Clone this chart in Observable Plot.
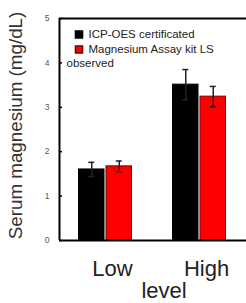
<!DOCTYPE html>
<html><head><meta charset="utf-8">
<script src="https://cdn.jsdelivr.net/npm/d3@7"></script>
<script src="https://cdn.jsdelivr.net/npm/@observablehq/plot@0.6"></script>
<style>body{margin:0;background:#fff} svg{display:block}</style>
</head><body><div id="chart"></div>
<script>
const levels = ["Low", "High"];
const series = ["ICP-OES certificated", "Magnesium Assay kit LS observed"];
const seriesColors = ["#000000", "#ff0000"];
const seriesStrokes = ["#000000", "#7a0000"];
const icpValues = [1.60, 3.51];
const icpErrors = [0.16, 0.34];
const kitValues = [1.67, 3.24];
const kitErrors = [0.12, 0.23];
const yTicks = [0, 1, 2, 3, 4, 5];
const yLabel = "Serum magnesium (mg/dL)";
const xLabel = "level";

const W = 246, H = 303, mL = 59, mR = 0, mT = 18, mB = 63;
const padIn = 0.421, padOut = 0.195;
const step = (W - mL - mR) / (levels.length - padIn + 2 * padOut);
const bw = step * (1 - padIn);
const half = bw / 2, cap = 3.5;
const leftGap = step * padOut; // distance from frame left to first band

const rows = [];
levels.forEach((l, i) => {
  rows.push({level: l, s: 0, value: icpValues[i], err: icpErrors[i]});
  rows.push({level: l, s: 1, value: kitValues[i], err: kitErrors[i]});
});
const r0 = rows.filter(d => d.s === 0), r1 = rows.filter(d => d.s === 1);

function barsFor(data, k) {
  const off = k === 0 ? -half / 2 : half / 2;
  const capL = k === 0 ? half / 2 - cap : half + half / 2 - cap;
  const capR = bw - capL - 2 * cap;
  return [
    Plot.barY(data, {x: "level", y: "value", fill: seriesColors[k], stroke: seriesStrokes[k], strokeWidth: 1,
      insetLeft: k === 0 ? 0.5 : half + 0.5, insetRight: k === 0 ? half + 0.5 : 0.5}),
    Plot.ruleX(data, {x: "level", y1: d => d.value - d.err, y2: d => d.value + d.err, dx: off, stroke: "#222", strokeWidth: 1.5}),
    Plot.tickY(data, {x: "level", y: d => d.value + d.err, insetLeft: capL, insetRight: capR, stroke: "#222", strokeWidth: 1.5}),
    Plot.tickY(data, {x: "level", y: d => d.value - d.err, insetLeft: capL, insetRight: capR, stroke: "#222", strokeWidth: 1.5})
  ];
}

const legendLines = [series[0], "Magnesium Assay kit LS", "observed"];

const plot = Plot.plot({
  width: W, height: H,
  marginLeft: mL, marginRight: mR, marginTop: mT, marginBottom: mB,
  style: {fontFamily: "Liberation Sans, Arial, sans-serif", background: "#fff"},
  x: {domain: levels, paddingInner: padIn, paddingOuter: padOut, align: 0.5, axis: null},
  y: {domain: [0, 5], axis: null},
  marks: [
    ...barsFor(r0, 0),
    ...barsFor(r1, 1),
    Plot.ruleY([0, 5], {stroke: "#000", strokeWidth: 2}),
    // left axis line
    Plot.ruleX([levels[0]], {x: d => d, y1: 0, y2: 5, dx: -(leftGap + bw / 2), stroke: "#000", strokeWidth: 2}),
    // inward tick marks
    Plot.tickY(yTicks, {x: () => levels[0], y: d => d, dx: -leftGap, insetRight: bw - 3.5, stroke: "#000", strokeWidth: 1.5}),
    // y tick labels
    Plot.text(yTicks, {x: () => levels[0], y: d => d, dx: -(leftGap + bw / 2 + 10), textAnchor: "end", fontSize: 8.5, fill: "#555"}),
    // x tick labels
    Plot.text(levels, {x: d => d, frameAnchor: "bottom", dx: 7, dy: 28, lineAnchor: "middle", fontSize: 22, fill: "#222"}),
    Plot.text([yLabel], {frameAnchor: "left", rotate: -90, dx: -44, dy: -4, textAnchor: "middle", lineAnchor: "middle", fontSize: 18.8, fill: "#333"}),
    Plot.text([xLabel], {frameAnchor: "bottom", dx: 11, dy: 50, textAnchor: "middle", lineAnchor: "middle", fontSize: 22, fill: "#222"}),
    Plot.dot([0], {frameAnchor: "top-left", dx: 19.5, dy: 16, symbol: "square", r: 4, fill: seriesColors[0], stroke: seriesStrokes[0]}),
    Plot.dot([1], {frameAnchor: "top-left", dx: 19.5, dy: 31, symbol: "square", r: 4, fill: seriesColors[1], stroke: seriesStrokes[1]}),
    Plot.text([legendLines[0]], {frameAnchor: "top-left", dx: 29, dy: 16, textAnchor: "start", lineAnchor: "middle", fontSize: 11.5, fill: "#222"}),
    Plot.text([legendLines[1]], {frameAnchor: "top-left", dx: 29, dy: 31, textAnchor: "start", lineAnchor: "middle", fontSize: 11.5, fill: "#222"}),
    Plot.text([legendLines[2]], {frameAnchor: "top-left", dx: 7, dy: 45, textAnchor: "start", lineAnchor: "middle", fontSize: 11.5, fill: "#222"})
  ]
});
document.getElementById("chart").append(plot);
</script>
</body></html>
